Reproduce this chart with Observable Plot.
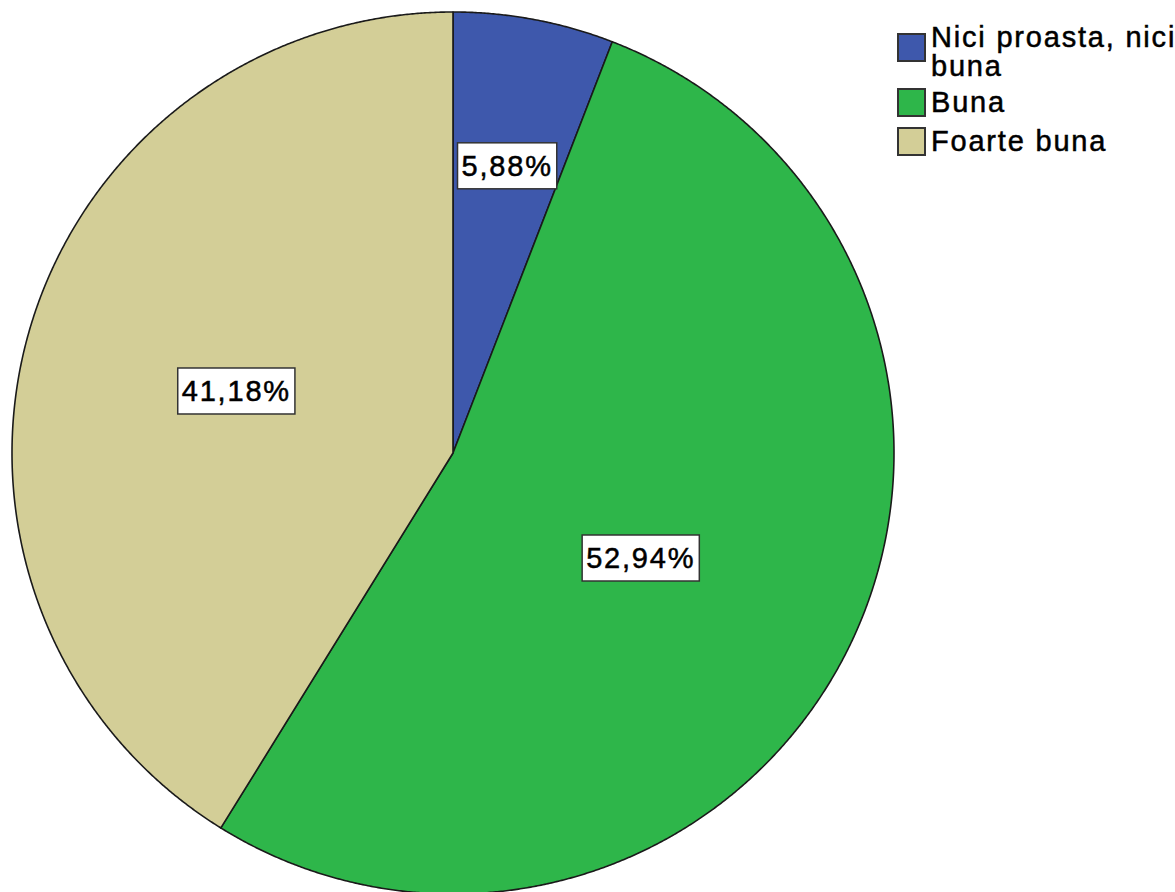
<!DOCTYPE html>
<html>
<head>
<meta charset="utf-8">
<script src="https://cdn.jsdelivr.net/npm/d3@7"></script>
<script src="https://cdn.jsdelivr.net/npm/@observablehq/plot@0.6"></script>
<style>
  body { margin: 0; background: #fff; }
  #wrap { position: relative; width: 1175px; height: 892px; overflow: hidden; }
  .leg { position: absolute; white-space: nowrap; font-family: "Liberation Sans", Arial, sans-serif; font-size: 29px; letter-spacing: 1.8px; color: #000; line-height: 29px; -webkit-text-stroke: 0.5px #000; }
  .sw { position: absolute; width: 25px; height: 25px; border: 2px solid #333; box-sizing: content-box; }
</style>
</head>
<body>
<div id="wrap"></div>
<script>
// ---- data ----
const categories = ["Nici proasta, nici buna", "Buna", "Foarte buna"];
const counts = [1, 9, 7];
const colors = ["#3e58ac", "#2eb64a", "#d3ce97"];
const legendLines = [["Nici proasta, nici", "buna"], ["Buna"], ["Foarte buna"]];

// ---- layout config ----
const W = 1175, H = 892;
const cx = 453, cy = 453, R = 441;
const labelRadius = [0.662, 0.487, 0.512];
const labelAngleShift = [0, 0.05, 0];

const total = d3.sum(counts);
const pie = d3.pie().sort(null).value(d => d)(counts);

// wedge outlines (arc sampled), in unit-circle coordinates
const wedges = [];
pie.forEach((p, i) => {
  const span = p.endAngle - p.startAngle;
  const n = Math.max(2, Math.ceil(span / 0.004));
  for (let k = 0; k <= n; k++) {
    const a = p.startAngle + span * k / n;
    wedges.push({cat: categories[i], x1: 0, y1: 0, x2: Math.sin(a), y2: Math.cos(a)});
  }
});

const fmt = v => (v * 100).toFixed(2).replace(".", ",") + "%";
const labels = pie.map((p, i) => {
  const a = (p.startAngle + p.endAngle) / 2 + labelAngleShift[i];
  return {x: Math.sin(a) * labelRadius[i], y: Math.cos(a) * labelRadius[i], text: fmt(counts[i] / total)};
});

const chart = Plot.plot({
  width: W, height: H,
  margin: 0,
  x: {domain: [-cx / R, (W - cx) / R], axis: null},
  y: {domain: [-(H - cy) / R, cy / R], axis: null},
  color: {domain: categories, range: colors},
  marks: [
    Plot.area(wedges, {x1: "x1", y1: "y1", x2: "x2", y2: "y2", z: "cat", fill: "cat",
      stroke: "#1a1a1a", strokeWidth: 1.6, strokeLinejoin: "round", curve: "linear"}),
    Plot.text(labels, {x: "x", y: "y", text: "text", fontSize: 29,
      fontFamily: "Liberation Sans, Arial, sans-serif", fill: "#000", className: "pielabel"})
  ]
});
chart.style.fontFamily = "Liberation Sans, Arial, sans-serif";
const wrap = document.getElementById("wrap");
wrap.appendChild(chart);

// white boxes behind labels
chart.querySelectorAll(".pielabel text").forEach(t => {
  t.setAttribute("letter-spacing", "1.8");
  t.setAttribute("stroke", "#000");
  t.setAttribute("stroke-width", "0.5");
  const b = t.getBBox();
  const r = document.createElementNS("http://www.w3.org/2000/svg", "rect");
  r.setAttribute("x", b.x - 4);
  r.setAttribute("y", b.y + b.height / 2 - 23);
  r.setAttribute("width", b.width + 8);
  r.setAttribute("height", 46);
  r.setAttribute("fill", "#fff");
  r.setAttribute("stroke", "#333");
  r.setAttribute("stroke-width", 1.5);
  r.setAttribute("transform", t.getAttribute("transform") || "");
  t.parentNode.insertBefore(r, t);
});

// legend (HTML, positioned at right)
const legTops = [33, 88, 127];
categories.forEach((c, i) => {
  const sw = document.createElement("div");
  sw.className = "sw";
  sw.style.left = "897px";
  sw.style.top = legTops[i] + "px";
  sw.style.background = colors[i];
  wrap.appendChild(sw);
  const tx = document.createElement("div");
  tx.className = "leg";
  tx.style.left = "931px";
  tx.style.top = (legTops[i] - (i === 0 ? 10 : 0)) + "px";
  tx.innerHTML = legendLines[i].join("<br>");
  wrap.appendChild(tx);
});
</script>
</body>
</html>
